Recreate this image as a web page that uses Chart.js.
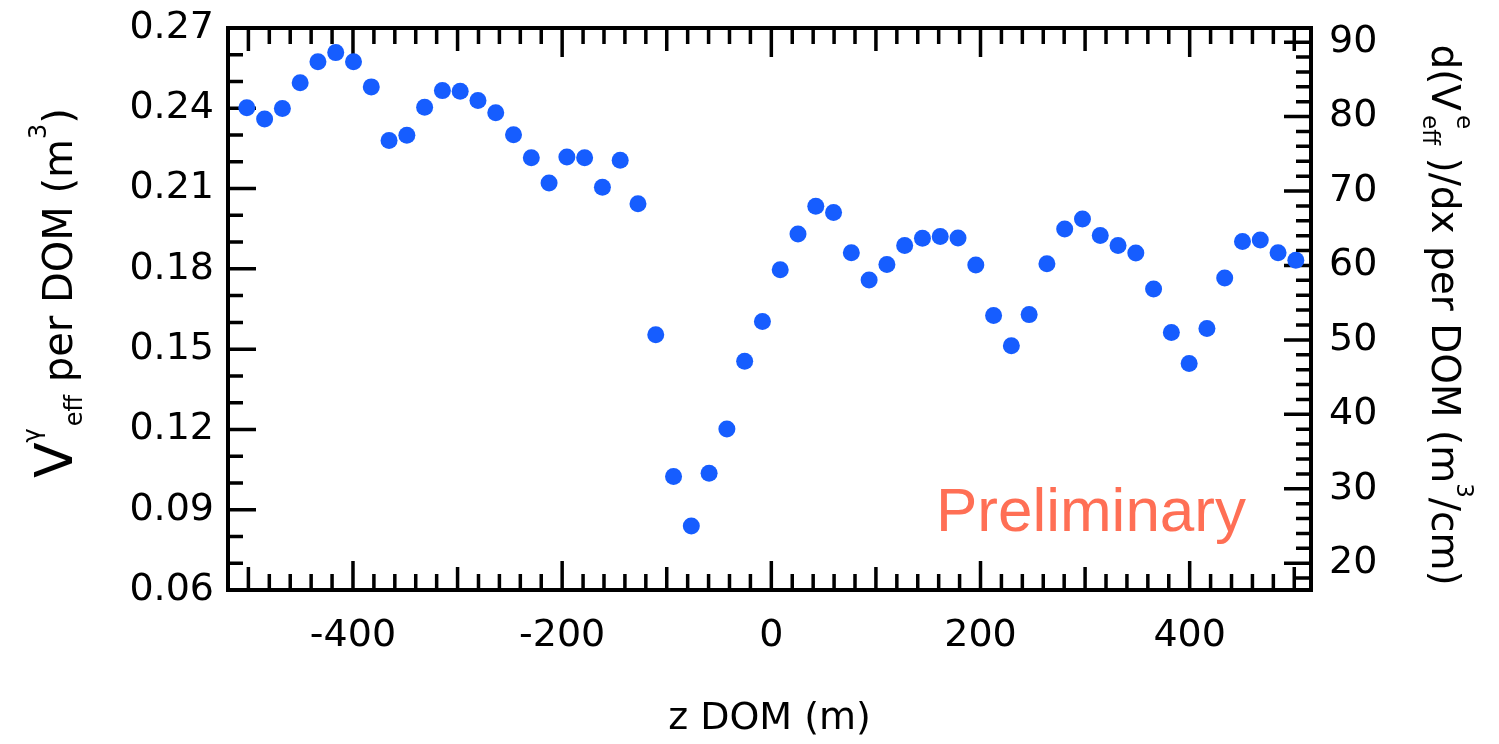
<!DOCTYPE html>
<html>
<head>
<meta charset="utf-8">
<script src="https://cdn.jsdelivr.net/npm/chart.js@4.4.1/dist/chart.umd.min.js"></script>
<style>
  html, body { margin: 0; padding: 0; background: #fff; }
  canvas { display: block; }
</style>
</head>
<body>
<canvas id="c" width="1499" height="744"></canvas>
<script>
// ---- data ----
const zPositions = [
  -501.5, -484.5, -467.5, -450.5, -433.5, -416.5, -399.5, -382.5, -365.5, -348.5,
  -331.5, -314.5, -297.5, -280.5, -263.5, -246.5, -229.5, -212.5, -195.5, -178.5,
  -161.5, -144.5, -127.5, -110.5, -93.5, -76.5, -59.5, -42.5, -25.5, -8.5,
  8.5, 25.5, 42.5, 59.5, 76.5, 93.5, 110.5, 127.5, 144.5, 161.5,
  178.5, 195.5, 212.5, 229.5, 246.5, 263.5, 280.5, 297.5, 314.5, 331.5,
  348.5, 365.5, 382.5, 399.5, 416.5, 433.5, 450.5, 467.5, 484.5, 501.5
];
const vGamma = [
  0.2402, 0.2360, 0.2399, 0.2495, 0.2574, 0.2608, 0.2574, 0.2480, 0.2280, 0.2299,
  0.2404, 0.2466, 0.2464, 0.2429, 0.2383, 0.2301, 0.2215, 0.2121, 0.2218, 0.2215,
  0.2105, 0.2206, 0.2043, 0.1554, 0.1024, 0.0839, 0.1036, 0.1202, 0.1455, 0.1603,
  0.1797, 0.1930, 0.2034, 0.2011, 0.1860, 0.1758, 0.1816, 0.1887, 0.1914, 0.1921,
  0.1915, 0.1814, 0.1626, 0.1513, 0.1629, 0.1819, 0.1949, 0.1986, 0.1925, 0.1887,
  0.1859, 0.1725, 0.1562, 0.1446, 0.1577, 0.1766, 0.1902, 0.1908, 0.1860, 0.1832
];
const xTicks = [-400, -200, 0, 200, 400];
const yTicks = [0.06, 0.09, 0.12, 0.15, 0.18, 0.21, 0.24, 0.27];
const y2Ticks = [20, 30, 40, 50, 60, 70, 80, 90];
const xTitle = 'z DOM (m)';
const annotationText = 'Preliminary';

// ---- styling ----
const FONT = '"DejaVu Sans", "Noto Sans", sans-serif';
const DOT = '#165dff';

function drawRich(ctx, segs, cx, cy, rot) {
  let total = 0;
  const w = segs.map(s => {
    ctx.font = s.size + 'px ' + FONT;
    const m = ctx.measureText(s.t).width;
    if (!s.noAdv) total += m + (s.gap || 0);
    return m;
  });
  ctx.save();
  ctx.translate(cx, cy);
  ctx.rotate(rot);
  ctx.textBaseline = 'alphabetic';
  ctx.textAlign = 'left';
  ctx.fillStyle = '#000';
  let pos = -total / 2;
  segs.forEach((s, i) => {
    ctx.font = s.size + 'px ' + FONT;
    ctx.fillText(s.t, pos, -(s.shift || 0));
    if (!s.noAdv) pos += w[i] + (s.gap || 0);
  });
  ctx.restore();
}

const framePlugin = {
  id: 'frame',
  beforeDatasetsDraw(chart) {
    const { ctx, chartArea: a, scales } = chart;
    const x = scales.x, y = scales.y, y2 = scales.y2;
    ctx.save();
    ctx.strokeStyle = '#000';
    ctx.lineCap = 'butt';
    ctx.lineWidth = 3.5;
    ctx.beginPath();
    for (let k = 6; k <= 27; k++) {
      const py = y.getPixelForValue(k / 100);
      const L = (k % 3 === 0) ? 28 : 15;
      ctx.moveTo(a.left, py); ctx.lineTo(a.left + L, py);
    }
    for (let v = 18; v <= 90; v += 2) {
      const py = y2.getPixelForValue(v);
      const L = (v % 10 === 0) ? 27 : 15;
      ctx.moveTo(a.right, py); ctx.lineTo(a.right - L, py);
    }
    for (let v = -500; v <= 500; v += 20) {
      const px = x.getPixelForValue(v);
      const L = (v % 200 === 0) ? 29 : (v % 100 === 0 ? 23 : 16);
      ctx.moveTo(px, a.bottom); ctx.lineTo(px, a.bottom - L);
      ctx.moveTo(px, a.top); ctx.lineTo(px, a.top + L);
    }
    ctx.stroke();
    ctx.lineWidth = 4;
    ctx.strokeRect(a.left, a.top, a.right - a.left, a.bottom - a.top);
    ctx.restore();
  },
  afterDraw(chart) {
    const { ctx, chartArea: a } = chart;
    ctx.save();
    ctx.font = '62px "Liberation Sans", Arial, sans-serif';
    ctx.fillStyle = '#ff6f55';
    ctx.textAlign = 'right';
    ctx.textBaseline = 'alphabetic';
    ctx.fillText(annotationText, a.right - 65, a.bottom - 59);
    ctx.restore();
    drawRich(ctx, [
      { t: 'V', size: 52 },
      { t: 'γ', size: 24, shift: 32, gap: 2 },
      { t: 'eff', size: 24, shift: -10 },
      { t: ' per DOM (m', size: 40 },
      { t: '3', size: 24, shift: 26 },
      { t: ')', size: 40 }
    ], 72, 293, -Math.PI / 2);
    drawRich(ctx, [
      { t: 'd(V', size: 39, gap: 4 },
      { t: 'e', size: 23, shift: 25, noAdv: true },
      { t: 'eff', size: 23, shift: -9 },
      { t: ' )/dx per DOM (m', size: 39 },
      { t: '3', size: 23, shift: 25 },
      { t: '/cm)', size: 39 }
    ], 1432, 315, Math.PI / 2);
  }
};

const zeroPad = s => { s.paddingTop = 0; s.paddingBottom = 0; s.paddingLeft = 0; s.paddingRight = 0; };

const ctx = document.getElementById('c').getContext('2d');
new Chart(ctx, {
  type: 'scatter',
  data: {
    datasets: [{
      data: zPositions.map((z, i) => ({ x: z, y: vGamma[i] })),
      yAxisID: 'y',
      backgroundColor: DOT,
      borderColor: DOT,
      borderWidth: 0,
      pointRadius: 8.5,
      pointHoverRadius: 8.5
    }]
  },
  options: {
    responsive: false,
    devicePixelRatio: 1,
    animation: false,
    events: [],
    layout: { padding: { top: 28, left: 0, right: 0, bottom: 0 } },
    plugins: { legend: { display: false }, tooltip: { enabled: false } },
    scales: {
      x: {
        type: 'linear', position: 'bottom', min: -519.5, max: 516,
        grid: { display: false, drawTicks: false }, border: { display: false },
        afterBuildTicks: s => { s.ticks = xTicks.map(v => ({ value: v })); },
        afterFit: s => { s.height = 154; zeroPad(s); },
        ticks: { font: { family: FONT, size: 38 }, color: '#000', padding: 23, maxRotation: 0, autoSkip: false },
        title: { display: true, text: xTitle, font: { family: FONT, size: 38 }, color: '#000', padding: { top: 0, bottom: 2 } }
      },
      y: {
        type: 'linear', position: 'left', min: 0.06, max: 0.27,
        grid: { display: false, drawTicks: false }, border: { display: false },
        afterBuildTicks: s => { s.ticks = yTicks.map(v => ({ value: v })); },
        afterFit: s => { s.width = 228; zeroPad(s); },
        ticks: { font: { family: FONT, size: 38 }, color: '#000', padding: 14, autoSkip: false,
                 callback: v => Number(v).toFixed(2) }
      },
      y2: {
        type: 'linear', position: 'right', min: 16.4, max: 91.9,
        grid: { display: false, drawTicks: false }, border: { display: false },
        afterBuildTicks: s => { s.ticks = y2Ticks.map(v => ({ value: v })); },
        afterFit: s => { s.width = 188; zeroPad(s); },
        ticks: { font: { family: FONT, size: 38 }, color: '#000', padding: 18, autoSkip: false,
                 callback: v => String(v) }
      }
    }
  },
  plugins: [framePlugin]
});
</script>
</body>
</html>
